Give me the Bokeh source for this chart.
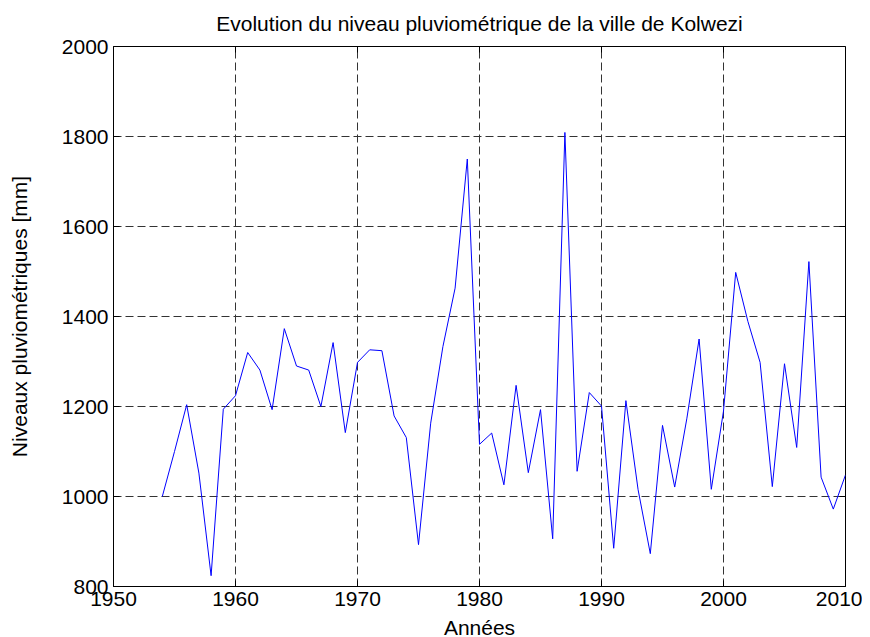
import math
from bokeh.plotting import figure
from bokeh.models import Range1d, FixedTicker, Title
from bokeh.embed import file_html
from bokeh.resources import INLINE

years = list(range(1954, 2011))
rain = [1000, 1100, 1204, 1052, 824, 1194, 1224, 1320, 1281, 1193,
        1373, 1290, 1281, 1200, 1342, 1142, 1298, 1326, 1324, 1179,
        1131, 893, 1163, 1333, 1463, 1750, 1116, 1141, 1026, 1247,
        1053, 1193, 906, 1809, 1056, 1231, 1201, 885, 1213, 1015,
        873, 1158, 1021, 1174, 1350, 1016, 1190, 1498, 1389, 1298,
        1022, 1295, 1109, 1522, 1043, 972, 1048]
x_ticks = [1950, 1960, 1970, 1980, 1990, 2000, 2010]
y_ticks = [800, 1000, 1200, 1400, 1600, 1800, 2000]

FONT = "Liberation Sans"
FS = "21px"

p = figure(frame_width=732, frame_height=540, output_backend="svg",
           toolbar_location=None,
           x_range=Range1d(x_ticks[0], x_ticks[-1]),
           y_range=Range1d(y_ticks[0], y_ticks[-1]),
           min_border_left=113, min_border_right=17,
           min_border_top=46, min_border_bottom=49)
p.title = Title(text="Evolution du niveau pluviométrique de la ville de Kolwezi",
                text_font=FONT, text_font_size=FS, text_font_style="normal",
                align="center", vertical_align="top", text_color="black",
                standoff=20)
p.outline_line_color = "black"
p.outline_line_width = 1

p.line(years, rain, color="blue", line_width=1)

for ax in (p.xaxis[0], p.yaxis[0]):
    ax.axis_line_color = "black"
    ax.major_tick_in = 6
    ax.major_tick_out = 0
    ax.minor_tick_in = 0
    ax.minor_tick_out = 0
    ax.major_label_text_font = FONT
    ax.major_label_text_font_size = FS
    ax.major_label_text_color = "black"
    ax.axis_label_text_font = FONT
    ax.axis_label_text_font_size = FS
    ax.axis_label_text_font_style = "normal"
    ax.axis_label_text_color = "black"

p.xaxis[0].ticker = FixedTicker(ticks=x_ticks)
p.yaxis[0].ticker = FixedTicker(ticks=y_ticks)
p.xaxis[0].axis_label = "Années"
p.yaxis[0].axis_label = "Niveaux pluviométriques [mm]"
p.xaxis[0].major_label_standoff = 5
p.xaxis[0].axis_label_standoff = 7
p.yaxis[0].major_label_standoff = 5
p.yaxis[0].axis_label_standoff = 28

# inward ticks on the top and right edges of the box (clipped to the frame)
p.scatter(x_ticks, [y_ticks[-1]] * len(x_ticks), marker="dash", angle=math.pi / 2,
          size=12, line_color="black", line_width=1)
p.scatter([x_ticks[-1]] * len(y_ticks), y_ticks, marker="dash",
          size=12, line_color="black", line_width=1)

for g, t in ((p.xgrid[0], x_ticks), (p.ygrid[0], y_ticks)):
    g.ticker = FixedTicker(ticks=t)
    g.grid_line_color = "#333333"
    g.grid_line_dash = "8 4"
    g.grid_line_width = 1

open("out.html", "w").write(file_html(p, INLINE))
